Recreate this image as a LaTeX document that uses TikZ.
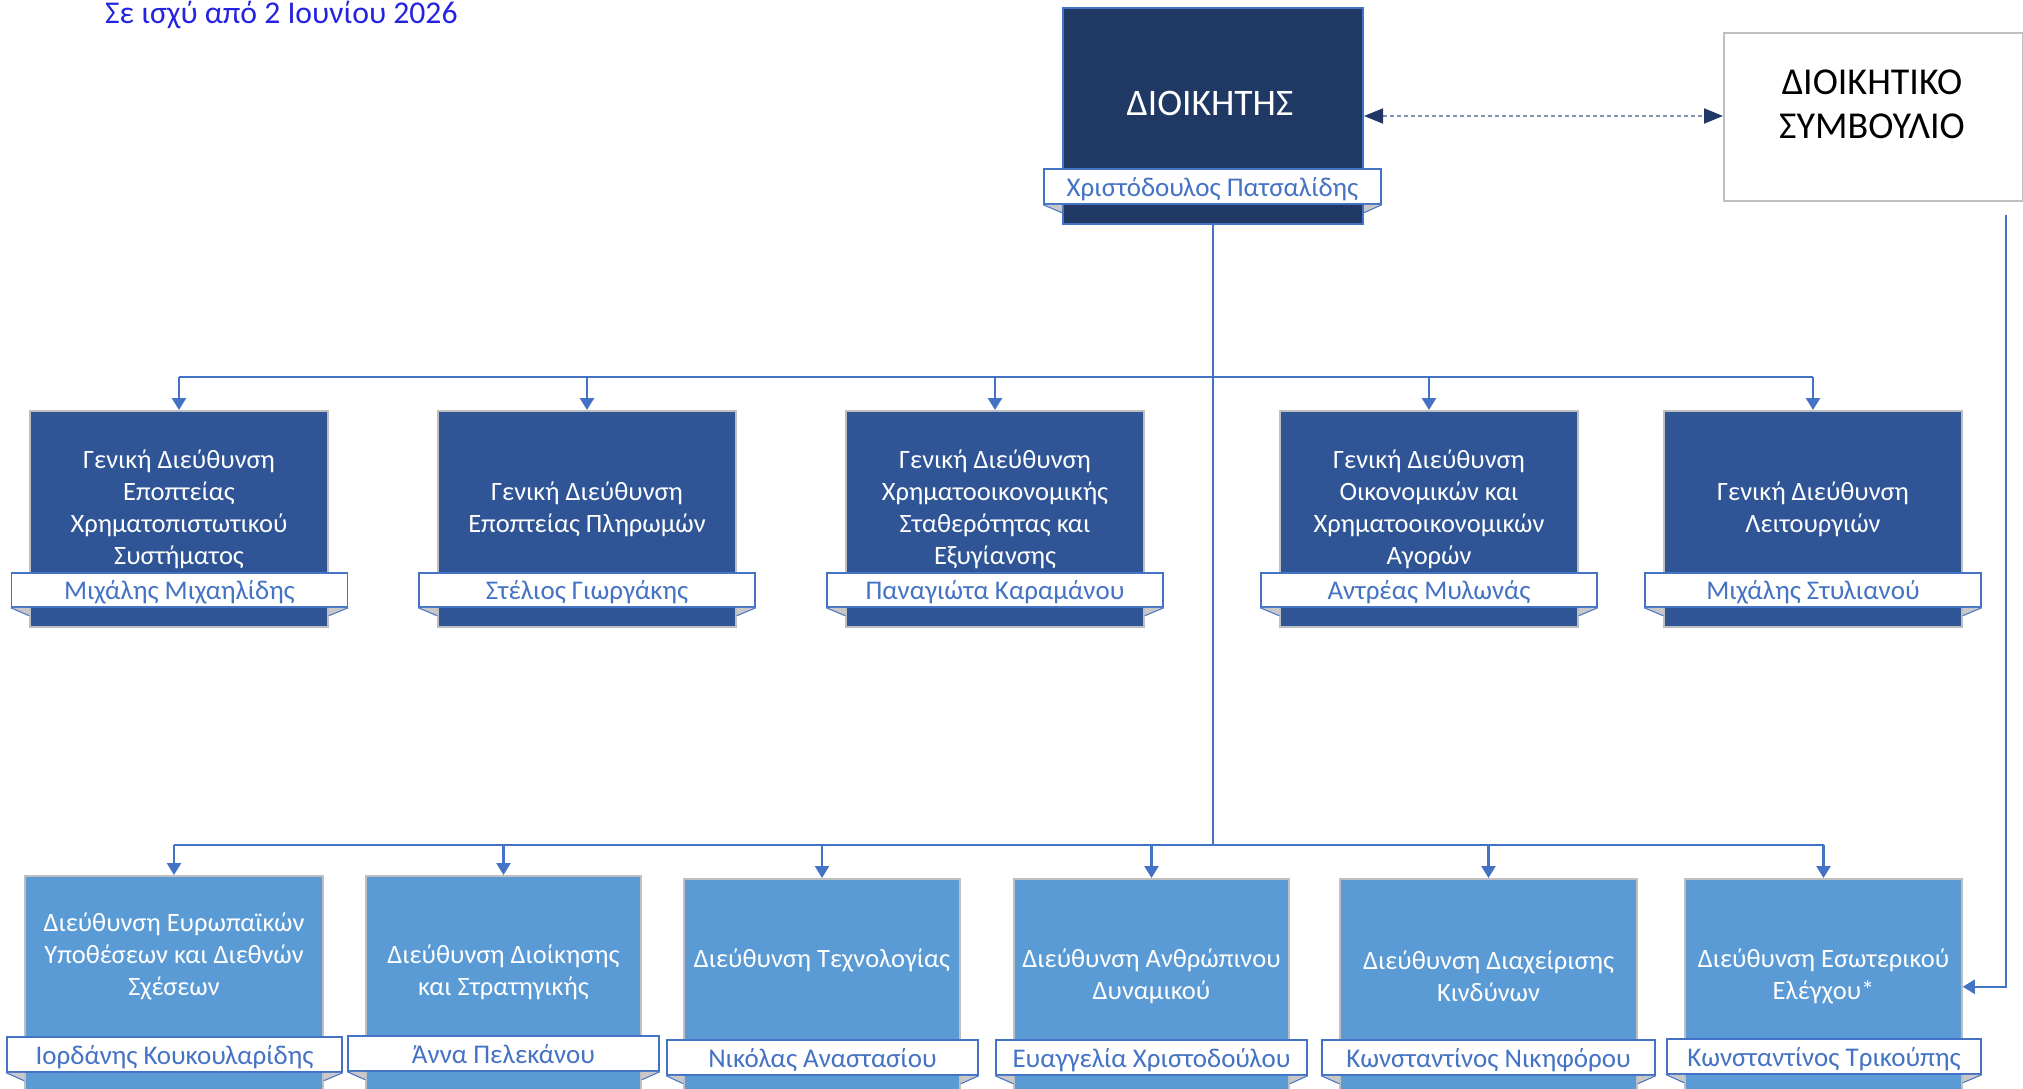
\documentclass[tikz,border=0pt]{standalone}
\usepackage{fontspec}
\setmainfont{Carlito}
\usetikzlibrary{arrows.meta,calc}
\definecolor{govfill}{RGB}{32,56,100}
\definecolor{gdfill}{RGB}{47,85,151}
\definecolor{dfill}{RGB}{91,155,213}
\definecolor{lineblue}{RGB}{68,114,196}
\definecolor{boxgrey}{RGB}{191,191,191}
\definecolor{foldgrey}{RGB}{200,200,200}
\definecolor{titleblue}{RGB}{35,35,225}
\definecolor{dashcol}{RGB}{130,145,175}
\newcommand\namebar[6]{%
  \node[ribbon, minimum width=#4pt, minimum height=#5pt] (#1) at (#3) {#6};
  \fill[foldgrey] (#1.south west) -- (#1.south west -| #2.west) -- ($(#1.south west -| #2.west)+(0,8)$) -- cycle;
  \draw[lineblue, line width=1pt] (#1.south west) -- ($(#1.south west -| #2.west)+(0,8)$);
  \fill[foldgrey] (#1.south east) -- (#1.south east -| #2.east) -- ($(#1.south east -| #2.east)+(0,8)$) -- cycle;
  \draw[lineblue, line width=1pt] (#1.south east) -- ($(#1.south east -| #2.east)+(0,8)$);
}
\begin{document}
\begin{tikzpicture}[x=1pt,y=-1pt,
  govbox/.style={draw=lineblue, line width=2pt, fill=govfill, inner sep=0pt, anchor=north},
  gdbox/.style={draw=boxgrey, line width=1.5pt, fill=gdfill, inner sep=0pt, anchor=north, minimum height=216pt},
  dbox/.style={draw=boxgrey, line width=1.5pt, fill=dfill, inner sep=0pt, anchor=north, minimum height=216pt},
  boardbox/.style={draw=boxgrey, line width=1.5pt, fill=white, inner sep=0pt, anchor=north west},
  boxtext/.style={text=white, align=center, inner sep=0pt, font=\fontsize{26.5}{32}\selectfont},
  ribbon/.style={draw=lineblue, line width=1.5pt, fill=white, inner sep=0pt, text=lineblue, text height=25pt, text depth=6pt, font=\fontsize{27}{32}\selectfont},
  conn/.style={draw=lineblue, line width=2.5pt},
  arr/.style={-{Triangle[length=12pt,width=14pt]}},
  dasharr/.style={draw=dashcol, line width=1.8pt, dash pattern=on 4pt off 3pt,
     {Triangle[length=19pt,width=15pt,fill=govfill,color=govfill]}-{Triangle[length=19pt,width=15pt,fill=govfill,color=govfill]}}
]
\clip (0,0) rectangle (2023,1088);
\fill[white] (0,0) rectangle (2023,1088);

% title
\node[anchor=base west, inner sep=0pt, text=titleblue, font=\fontsize{31.7}{38}\selectfont] (title) at (105,23) {Σε ισχύ από 2 Ιουνίου 2026};

% governor
\node[govbox, minimum width=300pt, minimum height=216pt] (gov) at (1213,7) {};
\node[text=white, inner sep=0pt, font=\fontsize{37.5}{44}\selectfont] (govt) at (1210,103) {ΔΙΟΙΚΗΤΗΣ};
\namebar{govn}{gov}{1212.5,186.5}{337}{35}{Χριστόδουλος Πατσαλίδης}

% board
\node[boardbox, minimum width=299pt, minimum height=168pt] (board) at (1723,32) {};
\node[align=center, inner sep=0pt, font=\fontsize{38}{44}\selectfont] (boardt) at (1872,104) {ΔΙΟΙΚΗΤΙΚΟ\\ΣΥΜΒΟΥΛΙΟ};
\draw[dasharr] (gov.east) -- (gov.east -| board.west);

% general directorates
\node[gdbox, minimum width=298pt] (g1) at (179,410) {};
\node[gdbox, minimum width=298pt] (g2) at (587,410) {};
\node[gdbox, minimum width=298pt] (g3) at (995,410) {};
\node[gdbox, minimum width=298pt] (g4) at (1429,410) {};
\node[gdbox, minimum width=298pt] (g5) at (1813,410) {};
\node[boxtext] (gt1) at (179,509) {Γενική Διεύθυνση\\Εποπτείας\\Χρηματοπιστωτικού\\Συστήματος};
\node[boxtext] (gt2) at (587,509) {Γενική Διεύθυνση\\Εποπτείας Πληρωμών};
\node[boxtext] (gt3) at (995,509) {Γενική Διεύθυνση\\Χρηματοοικονομικής\\Σταθερότητας και\\Εξυγίανσης};
\node[boxtext] (gt4) at (1429,509) {Γενική Διεύθυνση\\Οικονομικών και\\Χρηματοοικονομικών\\Αγορών};
\node[boxtext] (gt5) at (1813,509) {Γενική Διεύθυνση\\Λειτουργιών};
\namebar{gn1}{g1}{179.5,590}{336}{34}{Μιχάλης Μιχαηλίδης}
\namebar{gn2}{g2}{587,590}{336}{34}{Στέλιος Γιωργάκης}
\namebar{gn3}{g3}{995,590}{336}{34}{Παναγιώτα Καραμάνου}
\namebar{gn4}{g4}{1429,590}{336}{34}{Αντρέας Μυλωνάς}
\namebar{gn5}{g5}{1813,590}{336}{34}{Μιχάλης Στυλιανού}

% directorates
\node[dbox, minimum width=298pt] (d1) at (174,875) {};
\node[dbox, minimum width=275pt] (d2) at (503.5,875) {};
\node[dbox, minimum width=276pt] (d3) at (822,878) {};
\node[dbox, minimum width=275pt] (d4) at (1151.5,878) {};
\node[dbox, minimum width=297pt] (d5) at (1488.5,878) {};
\node[dbox, minimum width=277pt] (d6) at (1823.5,878) {};
\node[boxtext] (dt1) at (174,956) {Διεύθυνση Ευρωπαϊκών\\Υποθέσεων και Διεθνών\\Σχέσεων};
\node[boxtext] (dt2) at (503.5,972) {Διεύθυνση Διοίκησης\\και Στρατηγικής};
\node[boxtext] (dt3) at (822,960) {Διεύθυνση Τεχνολογίας};
\node[boxtext] (dt4) at (1151.5,976) {Διεύθυνση Ανθρώπινου\\Δυναμικού};
\node[boxtext] (dt5) at (1488.5,976) {Διεύθυνση Διαχείρισης\\Κινδύνων};
\node[boxtext] (dt6) at (1823.5,976) {Διεύθυνση Εσωτερικού\\Ελέγχου*};
\namebar{dn1}{d1}{174.5,1054.5}{335}{35}{Ιορδάνης Κουκουλαρίδης}
\namebar{dn2}{d2}{503.5,1053.5}{311}{35}{Άννα Πελεκάνου}
\namebar{dn3}{d3}{822.5,1057.5}{311}{35}{Νικόλας Αναστασίου}
\namebar{dn4}{d4}{1151.5,1057.5}{311}{35}{Ευαγγελία Χριστοδούλου}
\namebar{dn5}{d5}{1488.5,1057.5}{333}{35}{Κωνσταντίνος Νικηφόρου}
\namebar{dn6}{d6}{1824,1056.5}{314}{35}{Κωνσταντίνος Τρικούπης}

% connectors
\coordinate (bt) at (1213,377);
\coordinate (bb) at (1213,845);
\draw[conn] (gov.south) -- (bb);
\draw[conn] (bt -| g1.north) -- (bt -| g5.north);
\foreach \n in {g1,g2,g3,g4,g5} \draw[conn,arr] (bt -| \n.north) -- (\n.north);
\draw[conn] (bb -| d1.north) -- (bb -| d6.north);
\foreach \n in {d1,d2,d3,d4,d5,d6} \draw[conn,arr] (bb -| \n.north) -- (\n.north);
\coordinate (rc) at (2006,215);
\draw[conn,arr] (rc) |- (d6.east);
\end{tikzpicture}
\end{document}
